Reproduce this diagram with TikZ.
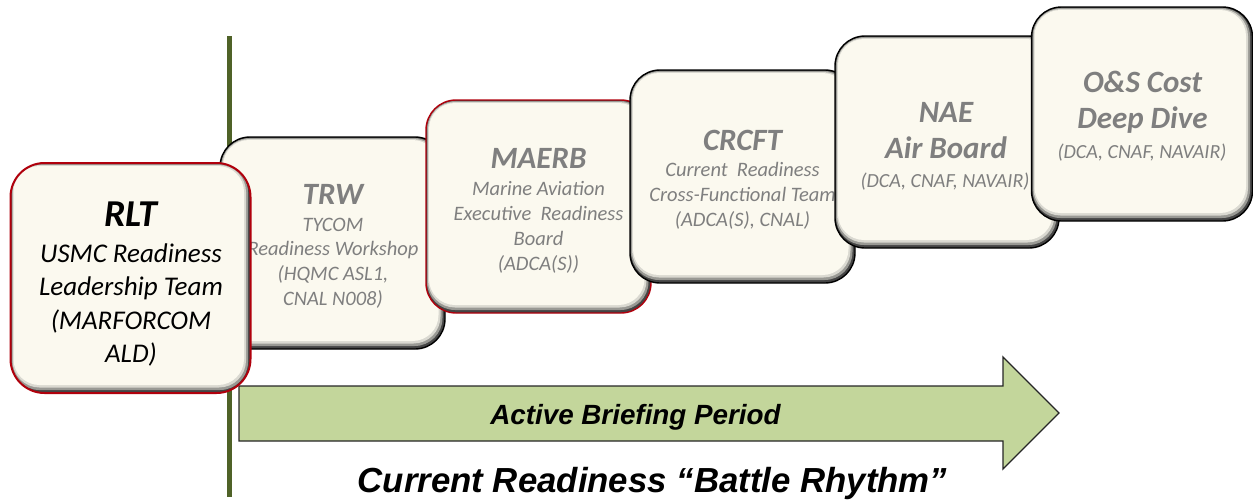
\documentclass[tikz,border=0pt]{standalone}
\usepackage{fontspec}
\setmainfont{Carlito}
\newfontfamily\arialf{Liberation Sans}
\definecolor{cream}{HTML}{FBF9EF}
\definecolor{bevA}{HTML}{444444}
\definecolor{bevB}{HTML}{999994}
\definecolor{bevC}{HTML}{DAD9D1}
\definecolor{rlred}{HTML}{B0000C}
\definecolor{txtgray}{HTML}{7F7F7F}
\definecolor{olive}{HTML}{4F6228}
\definecolor{arrowgreen}{HTML}{C3D69B}
\tikzset{
  boxbase/.style={line width=1.4pt, fill=bevA, inner sep=0pt,
    path picture={
      \fill[bevB, rounded corners=28pt] ([xshift=1pt,yshift=-1pt]path picture bounding box.north west) rectangle ([xshift=-2.5pt,yshift=3pt]path picture bounding box.south east);
      \fill[bevC, rounded corners=27pt] ([xshift=2pt,yshift=-2pt]path picture bounding box.north west) rectangle ([xshift=-4.5pt,yshift=5.5pt]path picture bounding box.south east);
      \fill[cream, rounded corners=26pt] ([xshift=3pt,yshift=-3pt]path picture bounding box.north west) rectangle ([xshift=-6.5pt,yshift=8pt]path picture bounding box.south east);
    }},
  stdbox/.style={boxbase, draw=black, rounded corners=30pt, minimum width=224pt, minimum height=213pt},
  redbox/.style={boxbase, draw=rlred, rounded corners=30pt, minimum width=225pt, minimum height=213pt},
  bigbox/.style={boxbase, draw=rlred, line width=2pt, rounded corners=34pt, minimum width=240pt, minimum height=230pt},
  ttl/.style={font=\fontsize{31}{36}\selectfont\bfseries\itshape, text=txtgray, inner sep=0pt, align=center},
  subt/.style={font=\fontsize{20.5}{24.8}\selectfont\itshape, text=txtgray, inner sep=0pt, align=center},
  smallsub/.style={font=\fontsize{20}{24}\selectfont\itshape, text=txtgray, inner sep=0pt, align=center},
  bigttl/.style={font=\fontsize{38}{44}\selectfont\bfseries\itshape, text=black, inner sep=0pt, align=center},
  bigsub/.style={font=\fontsize{27}{33.2}\selectfont\itshape, text=black, inner sep=0pt, align=center},
  arrowtxt/.style={font=\arialf\fontsize{27.8}{30}\selectfont\bfseries\itshape, text=black, inner sep=0pt},
  captxt/.style={font=\arialf\fontsize{34.8}{38}\selectfont\bfseries\itshape, text=black, inner sep=0pt}
}
\begin{document}
\begin{tikzpicture}[x=1pt,y=-1pt]
\useasboundingbox (0,0) rectangle (1253,499);
% timeline marker
\coordinate (vtop) at (229.5,36);
\coordinate (vbot) at (229.5,497);
\draw[olive, line width=4.5pt] (vtop) -- (vbot);
% arrow
\filldraw[fill=arrowgreen, draw=black!85, line width=1.3pt, line join=miter]
  (239,386) -- (1003,386) -- (1003,357) -- (1059,413) -- (1003,469) -- (1003,441) -- (239,441) -- cycle;
\node[arrowtxt, anchor=base] (abp) at (635.5,424) {Active Briefing Period};
\node[captxt, anchor=base] (cap) at (652.5,492) {Current Readiness “Battle Rhythm”};
% TRW
\node[stdbox, minimum width=225pt, minimum height=212pt] (trw) at (332.5,243) {};
\node[ttl] (trwt) at (333,194) {TRW};
\node[subt] (trws) at (333,263) {TYCOM\\Readiness Workshop\\(HQMC ASL1,\\CNAL N008)};
% MAERB
\node[redbox] (maerb) at (538.5,206.5) {};
\node[ttl] (maerbt) at (538.5,158) {MAERB};
\node[subt] (maerbs) at (538.5,227.5) {Marine Aviation\\Executive\ \ Readiness\\Board\\(ADCA(S))};
% CRCFT
\node[stdbox, minimum width=225pt] (crcft) at (742.5,176.5) {};
\node[ttl] (crcftt) at (742.5,140) {CRCFT};
\node[subt] (crcfts) at (742.5,196) {Current\ \ Readiness\\Cross-Functional Team\\(ADCA(S), CNAL)};
% NAE
\node[stdbox, minimum height=212pt] (nae) at (947,142) {};
\node[ttl] (naet) at (946,131) {NAE\\Air Board};
\node[smallsub] (naes) at (945,182) {(DCA, CNAF, NAVAIR)};
% O&S
\node[stdbox, minimum width=221pt, minimum height=214pt] (os) at (1142,114) {};
\node[ttl] (ost) at (1142.5,102) {O\&S Cost\\Deep Dive};
\node[smallsub] (oss) at (1142,153) {(DCA, CNAF, NAVAIR)};
% RLT
\node[bigbox] (rlt) at (130.5,278) {};
\node[bigttl] (rltt) at (131,214) {RLT};
\node[bigsub] (rlts) at (131,305) {USMC Readiness\\Leadership Team\\(MARFORCOM\\ALD)};
\end{tikzpicture}
\end{document}
